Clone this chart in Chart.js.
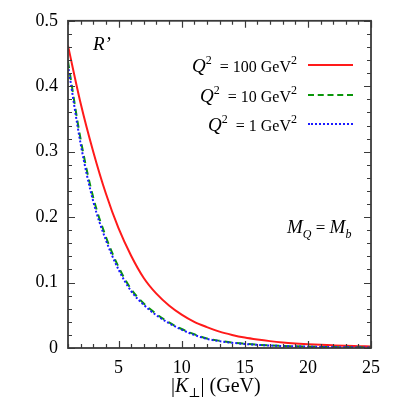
<!DOCTYPE html>
<html>
<head>
<meta charset="utf-8">
<script src="https://cdn.jsdelivr.net/npm/chart.js@4.4.0/dist/chart.umd.min.js"></script>
<style>
  body { margin: 0; background: #fff; }
  #wrap { position: relative; width: 399px; height: 398px; font-family: "Liberation Serif", "DejaVu Serif", serif; color: #000; }
  #wrap canvas { position: absolute; left: 0; top: 0; }
  .lbl { position: absolute; white-space: nowrap; line-height: 20px; }
  .it { font-style: italic; }
  .big { font-size: 19px; }
  .sup { position: relative; top: -8px; font-size: 12px; }
  .sub { position: relative; top: 5px; font-size: 12px; }
  .leg { position: absolute; font-size: 16px; text-align: right; right: 102px; }
  .sample { position: absolute; left: 308px; width: 45px; height: 0; }
</style>
</head>
<body>
<div id="wrap">
  <canvas id="chart" width="399" height="398"></canvas>

  <div class="lbl it" style="left:93px; top:34px; font-size:19px;">R’</div>

  <div class="lbl leg" style="top:56px;"><span class="it big">Q</span><span class="sup">2</span> &nbsp;= 100 GeV<span class="sup">2</span></div>
  <div class="sample" style="top:64px; border-top:2px solid #ff1a1a;"></div>
  <div class="lbl leg" style="top:86px;"><span class="it big">Q</span><span class="sup">2</span> &nbsp;= 10 GeV<span class="sup">2</span></div>
  <div class="sample" style="top:94px; border-top:2px dashed #0a960a;"></div>
  <div class="lbl leg" style="top:115px;"><span class="it big">Q</span><span class="sup">2</span> &nbsp;= 1 GeV<span class="sup">2</span></div>
  <div class="sample" style="top:123px; border-top:2px dotted #1a1aff;"></div>

  <div class="lbl" style="left:287px; top:217px; font-size:17px;"><span class="it big">M</span><span class="sub it">Q</span> = <span class="it big">M</span><span class="sub it">b</span></div>

  <div class="lbl" style="left:171px; top:375px; font-size:20px;">|<span class="it">K</span><span class="sub" style="font-size:13px;">⊥</span>| (GeV)</div>
</div>

<script>
// ===== R' vs |K_perp| =====

// x positions (GeV)
const kPerp = [1, 2, 3, 4, 5, 6, 7, 8, 9, 10, 11, 12, 13,
               14, 15, 16, 17, 18, 19, 20, 21, 22, 23, 24, 25];

// Q^2 = 100 GeV^2
const rQ100 = [0.462, 0.374, 0.300, 0.236, 0.183, 0.141, 0.107, 0.083, 0.065, 0.051, 0.040, 0.032, 0.025,
               0.020, 0.016, 0.013, 0.0105, 0.0085, 0.007, 0.0058, 0.0048, 0.004, 0.0033, 0.0028, 0.0023];

// Q^2 = 10 GeV^2
const rQ10 = [0.438, 0.319, 0.230, 0.170, 0.124, 0.090, 0.068, 0.052, 0.039, 0.029, 0.021, 0.0145, 0.011,
              0.0083, 0.0065, 0.005, 0.004, 0.0032, 0.0026, 0.0021, 0.0017, 0.0014, 0.0012, 0.001, 0.0008];

// Q^2 = 1 GeV^2
const rQ1 = [0.432, 0.312, 0.224, 0.165, 0.120, 0.087, 0.066, 0.050, 0.038, 0.028, 0.020, 0.014, 0.0105,
             0.008, 0.0062, 0.0048, 0.0038, 0.003, 0.0025, 0.002, 0.0016, 0.0013, 0.0011, 0.0009, 0.0007];

// axis ranges / ticks
const xRange = [1, 25];
const yRange = [0, 0.5];
const xLabelTicks = [5, 10, 15, 20, 25];
const yLabelTicks = [0, 0.1, 0.2, 0.3, 0.4, 0.5];

const FRAME = '#3a3a3a';

function isOn(v, list) {
  return list.some(t => Math.abs(t - v) < 1e-6);
}

function toPoints(ys) {
  return ys.map((y, i) => ({ x: kPerp[i], y: y }));
}

// frame + inward ticks on all four sides
const frameTicks = {
  id: 'frameTicks',
  afterDraw(chart) {
    const ctx = chart.ctx;
    const a = chart.chartArea;
    const xs = chart.scales.x;
    const ys = chart.scales.y;
    ctx.save();
    ctx.strokeStyle = FRAME;
    ctx.lineWidth = 1.2;
    ctx.beginPath();
    xs.ticks.forEach(t => {
      const px = Math.round(xs.getPixelForValue(t.value)) + 0.5;
      const len = isOn(t.value, xLabelTicks) ? 7 : 4;
      ctx.moveTo(px, a.bottom); ctx.lineTo(px, a.bottom - len);
      ctx.moveTo(px, a.top); ctx.lineTo(px, a.top + len);
    });
    ys.ticks.forEach(t => {
      const py = Math.round(ys.getPixelForValue(t.value)) + 0.5;
      const len = isOn(t.value, yLabelTicks) ? 7 : 4;
      ctx.moveTo(a.left, py); ctx.lineTo(a.left + len, py);
      ctx.moveTo(a.right, py); ctx.lineTo(a.right - len, py);
    });
    ctx.stroke();
    ctx.lineWidth = 1.8;
    ctx.strokeRect(a.left, a.top, a.right - a.left, a.bottom - a.top);
    ctx.restore();
  }
};

new Chart(document.getElementById('chart'), {
  type: 'line',
  data: {
    datasets: [
      {
        label: 'Q2 = 1 GeV2',
        data: toPoints(rQ1),
        borderColor: '#1a1aff',
        borderWidth: 2,
        borderDash: [2, 2],
        pointRadius: 0,
        cubicInterpolationMode: 'monotone',
        fill: false
      },
      {
        label: 'Q2 = 10 GeV2',
        data: toPoints(rQ10),
        borderColor: '#0a960a',
        borderWidth: 2,
        borderDash: [7, 5],
        pointRadius: 0,
        cubicInterpolationMode: 'monotone',
        fill: false
      },
      {
        label: 'Q2 = 100 GeV2',
        data: toPoints(rQ100),
        borderColor: '#ff1a1a',
        borderWidth: 2,
        pointRadius: 0,
        cubicInterpolationMode: 'monotone',
        fill: false
      }
    ]
  },
  options: {
    responsive: false,
    animation: false,
    layout: { padding: { top: 19, right: 28, left: 0, bottom: 0 } },
    plugins: {
      legend: { display: false },
      tooltip: { enabled: false }
    },
    scales: {
      x: {
        type: 'linear',
        min: xRange[0],
        max: xRange[1],
        grid: { display: false, drawTicks: false },
        border: { display: false },
        afterFit: s => { s.height = 50; },
        ticks: {
          stepSize: 1,
          autoSkip: false,
          maxRotation: 0,
          padding: 9,
          color: '#000',
          font: { family: 'Liberation Serif', size: 18 },
          callback: v => isOn(v, xLabelTicks) ? String(v) : ''
        }
      },
      y: {
        min: yRange[0],
        max: yRange[1],
        grid: { display: false, drawTicks: false },
        border: { display: false },
        afterFit: s => { s.width = 68; },
        ticks: {
          stepSize: 0.02,
          autoSkip: false,
          padding: 10,
          color: '#000',
          font: { family: 'Liberation Serif', size: 18 },
          callback: v => isOn(v, yLabelTicks) ? (Math.abs(v) < 1e-9 ? '0' : v.toFixed(1)) : ''
        }
      }
    }
  },
  plugins: [frameTicks]
});
</script>
</body>
</html>
